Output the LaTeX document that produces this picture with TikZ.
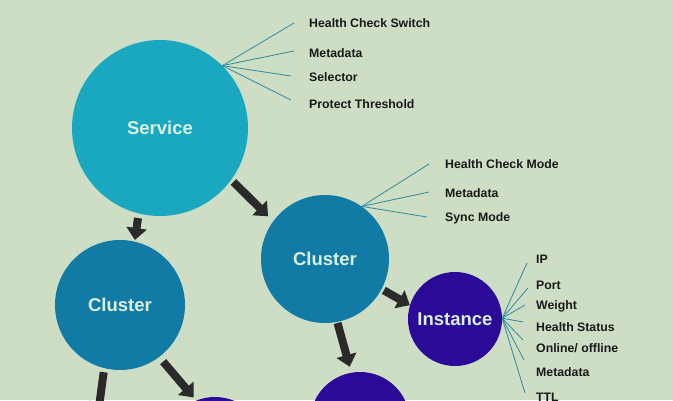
\documentclass[tikz,border=0pt]{standalone}
\usepackage{fontspec}
\setmainfont{Liberation Sans}
\usetikzlibrary{arrows.meta}
\definecolor{bgc}{RGB}{206,222,197}
\definecolor{svc}{RGB}{26,168,192}
\definecolor{clu}{RGB}{17,122,165}
\definecolor{ins}{RGB}{42,10,150}
\definecolor{ctext}{RGB}{218,240,222}
\definecolor{fan}{RGB}{46,138,158}
\definecolor{arr}{RGB}{42,42,42}
\tikzset{
  ball/.style={circle,inner sep=0pt,font=\fontsize{18.5}{20}\selectfont\bfseries,text=ctext},
  attr/.style={anchor=base west,inner sep=0pt,font=\fontsize{12.3}{14}\selectfont\bfseries,text=black!90},
  fanline/.style={draw=fan,line width=0.8pt},
  bigarrow/.style={draw=arr,line width=8pt,-{Triangle[length=12pt,width=20pt]},arr}
}
\begin{document}
\begin{tikzpicture}[x=1pt,y=-1pt]
\fill[bgc] (0,0) rectangle (673,400);
\clip (0,0) rectangle (673,400);
\useasboundingbox (0,0) rectangle (673,400);
% circles
\node[ball,fill=svc,minimum size=176pt] (service) at (160,128) {Service};
\node[ball,fill=clu,minimum size=128pt] (clusterR) at (325,259) {Cluster};
\node[ball,fill=clu,minimum size=130pt] (clusterL) at (120,305) {Cluster};
\node[ball,fill=ins,minimum size=94pt] (instance) at (455,319) {Instance};
\node[ball,fill=ins,minimum size=100pt] (inst2) at (360,422) {};
\node[ball,fill=ins,minimum size=100pt] (inst3) at (215,447) {};
\coordinate (down) at (98,414);
% service attributes
\node[attr] (s1) at (309,27) {Health Check Switch};
\node[attr] (s2) at (309,57) {Metadata};
\node[attr] (s3) at (309,81) {Selector};
\node[attr] (s4) at (309,108) {Protect Threshold};
\coordinate (se1) at (294,23);
\coordinate (se2) at (294,51);
\coordinate (se3) at (291,76);
\coordinate (se4) at (291,100);
\foreach \i in {1,...,4} \draw[fanline] (service.45) -- (se\i);
% cluster attributes
\node[attr] (c1) at (445,168) {Health Check Mode};
\node[attr] (c2) at (445,197) {Metadata};
\node[attr] (c3) at (445,221) {Sync Mode};
\coordinate (ce1) at (429,164);
\coordinate (ce2) at (429,192);
\coordinate (ce3) at (427,217);
\foreach \i in {1,...,3} \draw[fanline] (clusterR.55) -- (ce\i);
% instance attributes
\node[attr] (i1) at (536,263) {IP};
\node[attr] (i2) at (536,289) {Port};
\node[attr] (i3) at (536,309) {Weight};
\node[attr] (i4) at (536,331) {Health Status};
\node[attr] (i5) at (536,352) {Online/ offline};
\node[attr] (i6) at (536,376.5) {Metadata};
\node[attr] (i7) at (536,401) {TTL};
\coordinate (ie1) at (527,263);
\coordinate (ie2) at (528,288);
\coordinate (ie3) at (525,305);
\coordinate (ie4) at (523,322);
\coordinate (ie5) at (523,340);
\coordinate (ie6) at (524,360);
\coordinate (ie7) at (525,393);
\foreach \i in {1,...,7} \draw[fanline] (instance.1) -- (ie\i);
% arrows
\draw[bigarrow,shorten <=3pt,shorten >=7pt] (service.-36) -- (clusterR.144);
\draw[bigarrow,shorten <=4.5pt,shorten >=1.5pt] (service.-104) -- (clusterL.77);
\draw[bigarrow,shorten <=2.5pt] (clusterR.-28) -- (instance.163);
\draw[bigarrow,shorten <=1pt,shorten >=6pt] (clusterR.-79) -- (inst2.100);
\draw[bigarrow,shorten <=6pt,shorten >=4pt] (clusterL.-53) -- (inst3.112);
\draw[bigarrow,shorten <=4pt] (clusterL.-104) -- (down);
\end{tikzpicture}
\end{document}
